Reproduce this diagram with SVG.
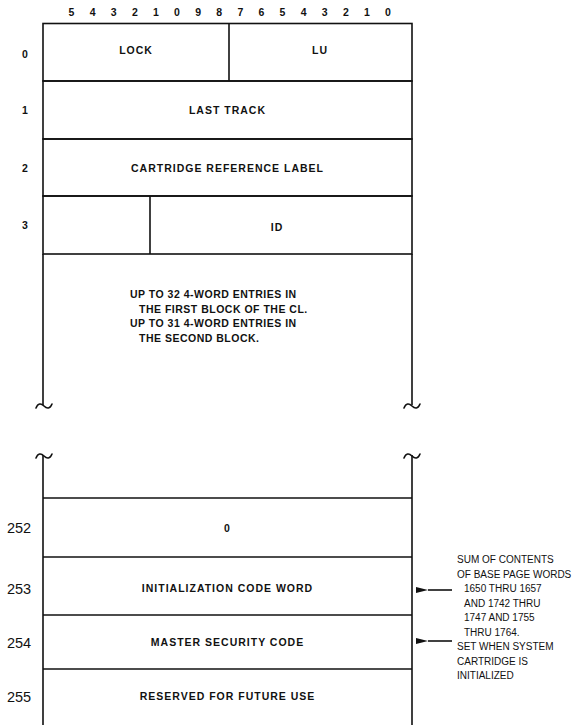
<svg xmlns="http://www.w3.org/2000/svg" width="583" height="725" viewBox="0 0 583 725">
<style>
.ln{stroke:#111;stroke-width:1.6;fill:none}
.sq{stroke:#111;stroke-width:1.6;fill:none;stroke-linecap:round}
.bit{font-family:"Liberation Sans",Arial,sans-serif;font-size:10.5px;font-weight:bold;fill:#111;text-anchor:middle}
.rl{font-family:"Liberation Sans",Arial,sans-serif;font-size:10.5px;font-weight:bold;fill:#111;text-anchor:middle}
.rn{font-family:"Liberation Sans",Arial,sans-serif;font-size:14.5px;fill:#111;text-anchor:middle}
.t{font-family:"Liberation Sans",Arial,sans-serif;font-size:10.5px;font-weight:bold;fill:#111;text-anchor:middle;letter-spacing:1px}
.m{font-family:"Liberation Sans",Arial,sans-serif;font-size:10.5px;font-weight:bold;fill:#111;letter-spacing:0.5px}
.n{font-family:"Liberation Sans",Arial,sans-serif;font-size:10px;fill:#111}
</style>
<defs>
<marker id="ah" markerWidth="12" markerHeight="7" refX="0" refY="3.5" orient="auto" markerUnits="userSpaceOnUse">
<path d="M0,3.5 L12,0.5 L12,6.5 Z" fill="#111"/>
</marker>
</defs>
<g id="bits">
<text class="bit" x="71.5" y="15.5">5</text>
<text class="bit" x="92.6" y="15.5">4</text>
<text class="bit" x="113.7" y="15.5">3</text>
<text class="bit" x="134.8" y="15.5">2</text>
<text class="bit" x="155.9" y="15.5">1</text>
<text class="bit" x="177" y="15.5">0</text>
<text class="bit" x="198.1" y="15.5">9</text>
<text class="bit" x="219.2" y="15.5">8</text>
<text class="bit" x="240.3" y="15.5">7</text>
<text class="bit" x="261.4" y="15.5">6</text>
<text class="bit" x="282.5" y="15.5">5</text>
<text class="bit" x="303.6" y="15.5">4</text>
<text class="bit" x="324.7" y="15.5">3</text>
<text class="bit" x="345.8" y="15.5">2</text>
<text class="bit" x="366.9" y="15.5">1</text>
<text class="bit" x="388" y="15.5">0</text>
</g>
<g id="row0">
<rect class="ln" x="43" y="23.5" width="369" height="57.5"/>
<line class="ln" x1="229" y1="23.5" x2="229" y2="81"/>
<text class="rl" x="25" y="58">0</text>
<text class="t" x="136" y="54">LOCK</text>
<text class="t" x="320" y="54">LU</text>
</g>
<g id="row1">
<rect class="ln" x="43" y="81" width="369" height="58"/>
<text class="rl" x="25" y="114">1</text>
<text class="t" x="227.5" y="114">LAST TRACK</text>
</g>
<g id="row2">
<rect class="ln" x="43" y="139" width="369" height="57"/>
<text class="rl" x="25" y="172">2</text>
<text class="t" x="227.5" y="172">CARTRIDGE REFERENCE LABEL</text>
</g>
<g id="row3">
<rect class="ln" x="43" y="196" width="369" height="58"/>
<line class="ln" x1="150" y1="196" x2="150" y2="254"/>
<text class="rl" x="25" y="229">3</text>
<text class="t" x="277" y="231">ID</text>
</g>
<g id="entries">
<path class="ln" d="M43,254 V405 M412,254 V405"/>
<path class="sq" d="M36,408 C38,403 41,403 44,406 C47,409 50,409 52,404"/>
<path class="sq" d="M404,408 C406,403 409,403 412,406 C415,409 418,409 420,404"/>
<text class="m" x="130" y="297.5">UP TO 32 4-WORD ENTRIES IN</text>
<text class="m" x="139" y="312.5">THE FIRST BLOCK OF THE CL.</text>
<text class="m" x="130" y="327">UP TO 31 4-WORD ENTRIES IN</text>
<text class="m" x="139" y="342">THE SECOND BLOCK.</text>
</g>
<g id="tail">
<path class="ln" d="M43,455 V725 M412,455 V725"/>
<path class="sq" d="M36,458 C38,453 41,453 44,456 C47,459 50,459 52,454"/>
<path class="sq" d="M404,458 C406,453 409,453 412,456 C415,459 418,459 420,454"/>
</g>
<g id="row252">
<line class="ln" x1="43" y1="498" x2="412" y2="498"/>
<text class="rn" x="19" y="533">252</text>
<text class="t" x="227.5" y="532">0</text>
</g>
<g id="row253">
<line class="ln" x1="43" y1="557" x2="412" y2="557"/>
<text class="rn" x="19" y="594">253</text>
<text class="t" x="227.5" y="592">INITIALIZATION CODE WORD</text>
</g>
<g id="row254">
<line class="ln" x1="43" y1="615" x2="412" y2="615"/>
<text class="rn" x="19" y="648">254</text>
<text class="t" x="227.5" y="646">MASTER SECURITY CODE</text>
</g>
<g id="row255">
<line class="ln" x1="43" y1="669" x2="412" y2="669"/>
<text class="rn" x="19" y="702">255</text>
<text class="t" x="227.5" y="700">RESERVED FOR FUTURE USE</text>
</g>
<g id="note">
<text class="n" x="457" y="563">SUM OF CONTENTS</text>
<text class="n" x="457" y="577.5">OF BASE PAGE WORDS</text>
<text class="n" x="464" y="592">1650 THRU 1657</text>
<text class="n" x="464" y="606.5">AND 1742 THRU</text>
<text class="n" x="464" y="621">1747 AND 1755</text>
<text class="n" x="464" y="635.5">THRU 1764.</text>
<text class="n" x="457" y="650">SET WHEN SYSTEM</text>
<text class="n" x="457" y="664.5">CARTRIDGE IS</text>
<text class="n" x="457" y="679">INITIALIZED</text>
</g>
<g id="connectors">
<line class="ln" x1="452" y1="590" x2="428" y2="590" marker-end="url(#ah)"/>
<line class="ln" x1="452" y1="641" x2="428" y2="641" marker-end="url(#ah)"/>
</g>
</svg>
